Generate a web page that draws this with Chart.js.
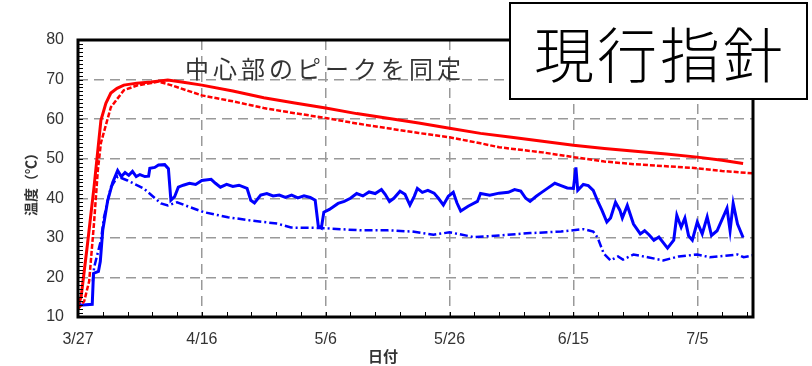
<!DOCTYPE html>
<html lang="ja">
<head>
<meta charset="utf-8">
<script src="https://cdn.jsdelivr.net/npm/chart.js@4/dist/chart.umd.min.js"></script>
<style>
  html, body { margin: 0; padding: 0; background: #fff; }
  #wrap { width: 812px; height: 366px; position: relative; }
</style>
</head>
<body>
<div id="wrap"><canvas id="chart"></canvas></div>
<script>
// 経過日数（3/27 = 0）と温度
const xTickLabels = ['3/27', '4/16', '5/6', '5/26', '6/15', '7/5'];

const redSolidDays  = [0, 0.5, 1.5, 2.6, 3.7, 4.5, 5.3, 6.3, 7.4, 9.5, 11.8, 14.5, 17, 20, 25, 30, 35, 40, 45, 50, 55, 60, 65, 70, 75, 80, 85, 90, 95, 100, 104, 107.4];
const redSolidTemps = [13, 15, 28, 43, 59.7, 64, 66.6, 67.8, 68.6, 69.1, 69.4, 69.9, 69.3, 68.6, 67.1, 65.4, 64.1, 62.8, 61.4, 60.2, 59, 57.7, 56.4, 55.4, 54.4, 53.4, 52.6, 51.9, 51.2, 50.4, 49.6, 48.8];

const redDashDays  = [0, 1, 1.8, 2.6, 3.2, 3.7, 5.3, 7.4, 9.5, 11.8, 13, 15, 20, 25, 30, 35, 40, 45, 50, 55, 60, 65, 68, 75, 80, 85, 90, 95, 100, 104, 109];
const redDashTemps = [12, 14, 19, 34, 47, 54, 63, 67.3, 68.5, 69.1, 69.5, 68.6, 66, 64.5, 62.8, 61.5, 60.3, 58.9, 57.7, 56.5, 55.4, 53.9, 52.9, 51.6, 50.4, 49.3, 48.6, 48.1, 47.6, 46.9, 46.3];

const blueSolidDays = [
  0, 0.3, 2.3, 2.5, 3.3, 3.6, 4.0, 4.8, 5.6, 6.4, 7.0, 7.6, 8.2, 8.8, 9.4, 10.0, 10.8, 11.4, 11.6, 12.4,
  13.0, 14.0, 14.6, 15.0, 15.6, 16.2, 17.0, 18.0, 19.0, 20.0, 21.5, 22.2, 23.0, 24.0, 25.0, 26.0, 27.3, 27.9, 28.5, 29.5,
  30.5, 31.5, 32.5, 33.5, 34.5, 35.5, 36.5, 37.5, 38.3, 38.8, 39.3, 39.7, 40.6, 42.0, 43.0, 44.0, 45.0, 46.0, 47.0, 48.0,
  49.0, 49.6, 50.3, 51.0, 52.0, 52.8, 53.6, 54.3, 54.8, 55.6, 56.5, 57.5, 58.2, 59.0, 59.8, 60.6, 61.2, 61.8, 63.0, 64.5,
  65.0, 66.5, 68.0, 69.5, 70.5, 71.5, 72.3, 73.0, 74.0, 74.7, 75.8, 77.0, 78.0, 79.0, 80.0, 80.4, 80.7, 81.6, 82.4, 83.2,
  84.0, 84.6, 85.4, 86.0, 86.8, 87.5, 87.9, 88.7, 89.7, 90.8, 91.5, 92.2, 93.0, 93.8, 95.2, 96.2, 96.7, 97.4, 98.0, 98.6,
  99.2, 100.0, 100.8, 101.6, 102.3, 103.2, 104.8, 105.3, 105.8, 106.5, 107.4
];
const blueSolidTemps = [
  15, 13, 13.2, 21, 21.5, 24, 32, 39.5, 44, 47, 45.5, 46.5, 45.8, 46.8, 45.5, 46, 45.5, 45.6, 47.6, 47.8,
  48.4, 48.5, 47.5, 39.5, 40.4, 42.8, 43.3, 43.8, 43.5, 44.5, 44.8, 43.8, 42.8, 43.5, 43, 43.3, 42.5, 39.5, 38.8, 40.8,
  41.2, 40.6, 40.8, 40.2, 40.8, 40.1, 40.6, 40.2, 39.5, 33, 32.5, 36.5, 37.2, 38.7, 39.2, 40, 41.2, 40.6, 41.6, 41.2,
  42.2, 41, 39.2, 40, 41.8, 41, 38.3, 40.5, 42.5, 41.5, 42, 41.3, 40, 38.3, 40.5, 41.5, 38.8, 36.8, 38, 39.2,
  41.2, 40.8, 41.3, 41.5, 42.2, 41.8, 40, 39.2, 40.5, 41.3, 42.5, 43.8, 43.2, 42.6, 42.5, 47.8, 42, 43.5, 43.2, 42,
  39, 37, 34, 35, 39, 37, 35, 38.2, 33.5, 31, 31.8, 30.8, 29.4, 30.2, 27.4, 29.4, 35.7, 32.7, 35, 30.5,
  29.4, 34, 31, 35.3, 30.6, 31.8, 37.5, 31.8, 38.7, 33.5, 30.1
];

const blueDashDays  = [2.4, 2.6, 3.7, 4.2, 5.3, 6.4, 8.0, 10.6, 13.4, 14.5, 16.0, 18.0, 20.3, 24.2, 27.9, 32.2, 34.4, 39.2, 45.6, 50.0, 54.0, 57.4, 60.0, 63.9, 68.0, 73.0, 78.0, 81.6, 83.2, 83.9, 84.9, 86.0, 87.2, 88.0, 89.7, 92.0, 94.5, 97.0, 100.0, 102.0, 106.5, 107.5, 109.0];
const blueDashTemps = [19, 22.5, 29.4, 35.2, 42.8, 45.5, 44.5, 42.5, 38.7, 38.2, 39, 37.8, 36.5, 35.2, 34.4, 33.6, 32.6, 32.5, 31.9, 31.9, 31.6, 30.8, 31.4, 30.2, 30.6, 31.2, 31.6, 32.2, 31.6, 30.1, 26, 24.3, 25.3, 24.5, 25.8, 25.1, 24.3, 25.3, 25.8, 25.1, 25.8, 25.1, 25.6];

const toPoints = (xs, ys) => xs.map((x, i) => ({ x: x, y: ys[i] }));

// 枠・内向き目盛・グラフ内の文字
const framePlugin = {
  id: 'frame',
  afterDraw(chart) {
    const ctx = chart.ctx;
    const a = chart.chartArea;
    const xs = chart.scales.x, ys = chart.scales.y;
    ctx.save();

    // 内向きの小目盛
    ctx.strokeStyle = '#000';
    ctx.lineWidth = 1;
    ctx.beginPath();
    for (let v = ys.min; v <= ys.max; v += 1) {
      const py = Math.round(ys.getPixelForValue(v)) + 0.5;
      ctx.moveTo(a.left, py);
      ctx.lineTo(a.left + 5, py);
    }
    for (let d = xs.min; d <= xs.max; d += 4) {
      const px = Math.round(xs.getPixelForValue(d)) + 0.5;
      ctx.moveTo(px, a.bottom);
      ctx.lineTo(px, a.bottom - 5);
    }
    ctx.stroke();

    // 外枠
    ctx.lineWidth = 3;
    ctx.strokeRect(a.left, a.top, a.right - a.left, a.bottom - a.top);

    // グラフ内の注記
    ctx.fillStyle = '#333';
    ctx.font = '24px "Noto Sans CJK JP"';
    ctx.textBaseline = 'middle';
    ctx.textAlign = 'left';
    ctx.letterSpacing = '4px';
    ctx.fillText('中心部のピークを同定', 185, 69);

    // 軸タイトル
    ctx.letterSpacing = '0px';
    ctx.font = 'bold 15px "Noto Sans CJK JP"';
    ctx.textAlign = 'center';
    ctx.fillText('日付', 383, 356);
    ctx.save();
    ctx.translate(31, 181);
    ctx.rotate(-Math.PI / 2);
    ctx.font = 'bold 14px "Noto Sans CJK JP"';
    ctx.fillText('温度（℃）', 0, 0);
    ctx.restore();

    // 見出しの囲み
    ctx.fillStyle = '#fff';
    ctx.fillRect(510, 3, 297, 96);
    ctx.strokeStyle = '#000';
    ctx.lineWidth = 2;
    ctx.strokeRect(510, 3, 297, 96);
    ctx.fillStyle = '#000';
    ctx.font = '300 60px "Noto Sans CJK JP"';
    ctx.letterSpacing = '3px';
    ctx.textAlign = 'center';
    ctx.fillText('現行指針', 660, 55);

    ctx.restore();
  }
};

new Chart(document.getElementById('chart'), {
  type: 'line',
  data: {
    datasets: [
      { data: toPoints(redSolidDays, redSolidTemps), borderColor: '#ff0000', borderWidth: 3 },
      { data: toPoints(redDashDays, redDashTemps), borderColor: '#ff0000', borderWidth: 2.5, borderDash: [5, 2] },
      { data: toPoints(blueSolidDays, blueSolidTemps), borderColor: '#0000ff', borderWidth: 3 },
      { data: toPoints(blueDashDays, blueDashTemps), borderColor: '#0000ff', borderWidth: 2.5, borderDash: [8, 3, 2, 3] }
    ]
  },
  options: {
    responsive: true,
    maintainAspectRatio: false,
    animation: false,
    layout: { padding: { left: 0, top: 40, right: 59, bottom: 0 } },
    elements: { point: { radius: 0 }, line: { tension: 0, fill: false } },
    plugins: { legend: { display: false }, tooltip: { enabled: false } },
    scales: {
      x: {
        type: 'linear',
        min: 0,
        max: 109,
        afterFit: s => { s.height = 49; },
        grid: { color: '#999', lineWidth: 1.5, drawTicks: false },
        border: { display: false, dash: [10, 6] },
        ticks: {
          stepSize: 20,
          padding: 13,
          color: '#333',
          font: { family: 'Liberation Sans', size: 16 },
          maxRotation: 0,
          callback: v => xTickLabels[v / 20]
        }
      },
      y: {
        min: 10,
        max: 80,
        afterFit: s => { s.width = 78; },
        grid: { color: '#999', lineWidth: 1.5, drawTicks: false },
        border: { display: false, dash: [10, 6] },
        ticks: {
          stepSize: 10,
          padding: 14,
          color: '#333',
          font: { family: 'Liberation Sans', size: 16 }
        }
      }
    }
  },
  plugins: [framePlugin]
});
</script>
</body>
</html>
